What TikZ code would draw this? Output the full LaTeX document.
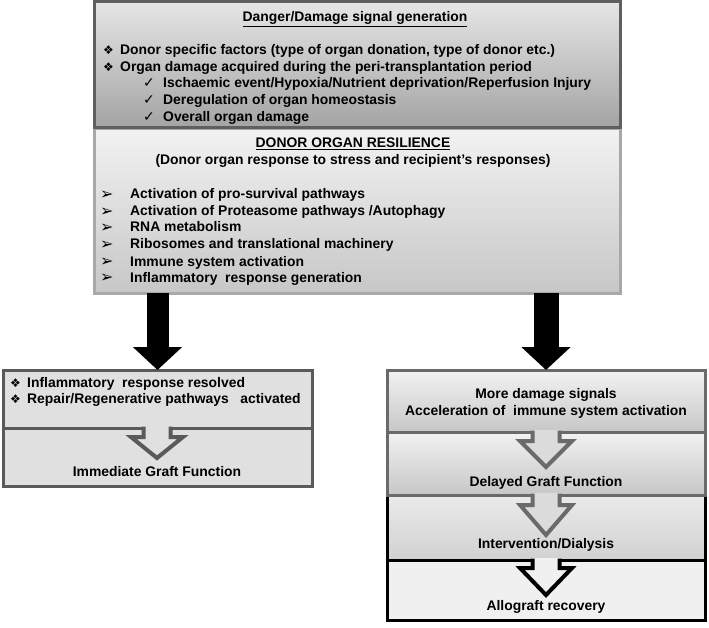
\documentclass[tikz,border=0pt]{standalone}
\usepackage{fontspec}
\setmainfont{Liberation Sans}
\newfontfamily\symf{DejaVu Sans}
\usetikzlibrary{calc,arrows.meta}
\definecolor{bordA}{HTML}{5F5F5F}
\definecolor{bordB}{HTML}{A8A8A8}
\definecolor{bordC}{HTML}{5A5A5A}
\definecolor{bordD}{HTML}{6A6A6A}
\newcommand\mychev[6]{%
  \fill[#6] (#1-13.5,#2-2) -- (#1-13.5,#3) -- (#1-26,#3) -- (#1,#4) -- (#1+26,#3) -- (#1+13.5,#3) -- (#1+13.5,#2-2) -- cycle;
  \draw[#5, line width=4pt, line join=miter] (#1-13.5,#2-1.5) -- (#1-13.5,#3) -- (#1-26,#3) -- (#1,#4) -- (#1+26,#3) -- (#1+13.5,#3) -- (#1+13.5,#2-1.5);
}
\begin{document}
\begin{tikzpicture}[x=1pt,y=-1pt,
  sec/.style={inner sep=0pt, outer sep=0pt, line width=3pt},
  t/.style={font=\fontsize{13.9}{16.7}\selectfont\bfseries, inner sep=0pt, anchor=base west},
  tc/.style={t, anchor=base},
  sy/.style={font=\symf\fontsize{12}{12}\selectfont, inner sep=0pt, anchor=base west},
  sck/.style={font=\symf\fontsize{14}{14}\selectfont, inner sep=0pt, anchor=base west},
  sar/.style={font=\symf\fontsize{16}{16}\selectfont, inner sep=0pt, anchor=base west},
  bigarrow/.style={line width=#1, draw=black, -{Triangle[width=48pt,length=23pt]}},
]
\useasboundingbox[fill=white] (0,0) rectangle (709,628);

% top sections
\node[sec, draw=bordB, top color=white!95!black, bottom color=black!22, minimum width=526pt, minimum height=164pt] (res) at (357,211) {};
\node[sec, draw=bordA, top color=black!10, bottom color=black!36, minimum width=526pt, minimum height=126pt] (dng) at (357,65) {};

\node[tc] (h1) at (355,22) {\underline{Danger/Damage signal generation}};
\node[sy] (b1) at (103,55) {❖};
\node[t] (l1) at (120,55) {Donor specific factors (type of organ donation, type of donor etc.)};
\node[sy] (b2) at (103,72) {❖};
\node[t] (l2) at (120,72) {Organ damage acquired during the peri-transplantation period};
\node[sck] (c1) at (143,88) {✓};
\node[t] (l3) at (163,88) {Ischaemic event/Hypoxia/Nutrient deprivation/Reperfusion Injury};
\node[sck] (c2) at (143,105) {✓};
\node[t] (l4) at (163,105) {Deregulation of organ homeostasis};
\node[sck] (c3) at (143,122) {✓};
\node[t] (l5) at (163,122) {Overall organ damage};

\node[tc] (h2) at (353,148) {\underline{DONOR ORGAN RESILIENCE}};
\node[tc] (h3) at (353,165) {(Donor organ response to stress and recipient's responses)};
\node[sar] (a1) at (100,200) {➢};
\node[t] (m1) at (130,199) {Activation of pro-survival pathways};
\node[sar] (a2) at (100,217) {➢};
\node[t] (m2) at (130,216) {Activation of Proteasome pathways /Autophagy};
\node[sar] (a3) at (100,233) {➢};
\node[t] (m3) at (130,232) {RNA metabolism};
\node[sar] (a4) at (100,250) {➢};
\node[t] (m4) at (130,249) {Ribosomes and translational machinery};
\node[sar] (a5) at (100,267) {➢};
\node[t] (m5) at (130,266) {Immune system activation};
\node[sar] (a6) at (100,283) {➢};
\node[t] (m6) at (130,282) {Inflammatory\ \ response generation};

% left box
\node[sec, draw=bordC, fill=black!12, minimum width=309pt, minimum height=58pt] (lb1) at (157.5,399) {};
\node[sec, draw=bordC, fill=black!12, minimum width=309pt, minimum height=58pt] (lb2) at (157.5,457) {};
\node[sy] (lbb1) at (10,387) {❖};
\node[t] (lt1) at (27,387) {Inflammatory\ \ response resolved};
\node[sy] (lbb2) at (10,403) {❖};
\node[t] (lt2) at (27,403) {Repair/Regenerative pathways\ \ \ activated};
\mychev{157}{428}{437}{458}{bordC}{black!12}
\node[tc] (lt3) at (157,476) {Immediate Graft Function};

% right box
\node[sec, draw=black, top color=black!8, bottom color=black!18, minimum width=318pt, minimum height=65pt] (rb3) at (546,527.5) {};
\node[sec, draw=black, fill=black!6, minimum width=318pt, minimum height=60pt] (rb4) at (546,590) {};
\node[sec, draw=bordD, top color=black!5, bottom color=black!22, minimum width=318pt, minimum height=62pt] (rb1) at (546,401) {};
\node[sec, draw=bordD, top color=black!5, bottom color=black!22, minimum width=318pt, minimum height=63pt] (rb2) at (546,463.5) {};
\mychev{546}{432}{441}{467}{bordD}{black!14}
\mychev{546}{495}{505}{535}{bordD}{black!14}
\mychev{546}{560}{568}{595}{black}{black!6}
\node[tc] (rt1) at (546,398) {More damage signals};
\node[tc] (rt2) at (546,415) {Acceleration of\ \ immune system activation};
\node[tc] (rt3) at (546,486) {Delayed Graft Function};
\node[tc] (rt4) at (546,548) {Intervention/Dialysis};
\node[tc] (rt5) at (546,610) {Allograft recovery};

% big arrows
\draw[bigarrow=22pt] (res.south -| lb1.north) -- (lb1.north);
\draw[bigarrow=25pt] (res.south -| rb1.north) -- (rb1.north);
\end{tikzpicture}
\end{document}
